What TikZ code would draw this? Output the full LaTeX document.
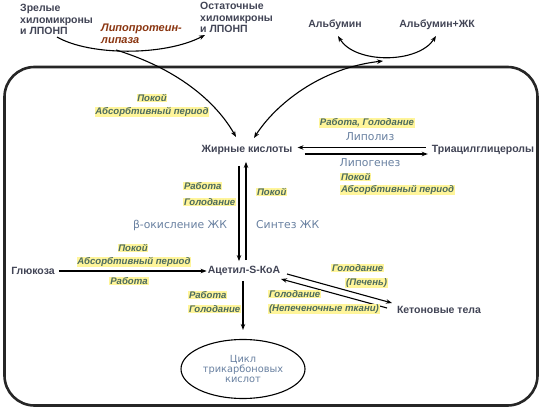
\documentclass[tikz,border=0pt]{standalone}
\usepackage{fontspec}
\setmainfont{Liberation Sans}
\newfontfamily\dvfont{DejaVu Sans}
\usetikzlibrary{arrows.meta,shapes.geometric,calc}
\definecolor{darktxt}{HTML}{414455}
\definecolor{condtxt}{HTML}{4C6B5E}
\definecolor{hlyel}{HTML}{FFF59A}
\definecolor{proctxt}{HTML}{6880A0}
\definecolor{brntxt}{HTML}{8A3510}
\tikzset{
  mainlbl/.style={font=\fontsize{10.5}{11.6}\selectfont\bfseries, text=darktxt, inner sep=1pt},
  condlbl/.style={font=\fontsize{9.6}{10}\selectfont\bfseries\itshape, text=condtxt, fill=hlyel, inner sep=0.8pt},
  proclbl/.style={font=\dvfont\fontsize{10.8}{11}\selectfont, text=proctxt, inner sep=1pt},
  arr/.style={-{Stealth[length=6pt,width=4.5pt]}, line width=1.1pt},
  dblarr/.style={{Stealth[length=6pt,width=4.5pt]}-{Stealth[length=6pt,width=4.5pt]}, line width=1.1pt},
}
\begin{document}
\begin{tikzpicture}[x=1pt,y=-1pt]
\useasboundingbox (0,0) rectangle (542,409);
\draw[line width=2.6pt, rounded corners=30pt, black!85] (4.5,67) rectangle (537.5,405.5);

% top texts
\node[mainlbl, align=left, anchor=north west] (mature) at (19,3) {Зрелые\\хиломикроны\\и ЛПОНП};
\node[mainlbl, align=left, anchor=north west] (resid) at (199,1) {Остаточные\\хиломикроны\\и ЛПОНП};
\node[font=\fontsize{11}{11.5}\selectfont\bfseries\itshape, text=brntxt, align=left, anchor=north west, inner sep=1pt] (lpl) at (100,23) {Липопротеин-\\липаза};
\node[mainlbl] (alb) at (335,25) {Альбумин};
\node[mainlbl] (albfa) at (437,25) {Альбумин+ЖК};

% main metabolites
\node[mainlbl] (fa) at (247,150) {Жирные кислоты};
\node[mainlbl] (tag) at (483,150) {Триацилглицеролы};
\node[mainlbl] (ac) at (244,271) {Ацетил-S-КоА};
\node[mainlbl] (glc) at (33,271) {Глюкоза};
\node[mainlbl] (ket) at (439,310) {Кетоновые тела};
\node[draw, ellipse, line width=1.1pt, minimum width=124pt, minimum height=59pt, align=center, inner sep=0pt, font=\dvfont\fontsize{9.8}{9.8}\selectfont, text=proctxt] (tca) at (243,369) {Цикл\\трикарбоновых\\кислот};

% coordinates for curves
\coordinate (m1) at (57,37);
\coordinate (m2) at (205,35);
\coordinate (l1) at (116,50);
\coordinate (a1) at (338,36);
\coordinate (a2) at (436,36);
\coordinate (a3) at (383,61);
\coordinate (f1) at (236,137);
\coordinate (f2) at (254,138);

\draw[arr] (m1) .. controls (90,56) and (165,56) .. (m2);
\draw[arr] (l1) .. controls (175,68) and (215,100) .. (f1);
\draw[dblarr] (a1) .. controls (355,64) and (418,64) .. (a2);
\draw[dblarr] (f2) .. controls (275,105) and (320,68) .. (a3);

% FA <-> TAG
\draw[arr] ($(tag.west)+(-5,-2.5)$) -- ($(fa.east)+(4,-2.5)$);
\draw[arr] ($(fa.east)+(11,4)$) -- ($(tag.west)+(-3,4)$);
\node[condlbl] (c1) at (367,123) {Работа, Голодание};
\node[proclbl] (lipol) at (370,137) {Липолиз};
\node[proclbl] (lipog) at (370,163) {Липогенез};
\node[condlbl, anchor=west] (c2) at (340,177) {Покой};
\node[condlbl, anchor=west] (c3) at (340,190) {Абсорбтивный период};

\node[condlbl] (c4) at (152,98) {Покой};
\node[condlbl] (c5) at (152,112) {Абсорбтивный период};

% FA <-> acetyl
\draw[arr] ($(fa.south)+(-8,10)$) -- ($(ac.north)+(-5,-4)$);
\draw[arr] ($(ac.north)+(2,-5)$) -- ($(fa.south)+(-1,6)$);
\node[condlbl, anchor=west] (c6) at (183,186) {Работа};
\node[condlbl, anchor=west] (c7) at (183,202) {Голодание};
\node[condlbl, anchor=west] (c8) at (256,192) {Покой};
\node[proclbl] (box) at (180,225) {β-окисление ЖК};
\node[proclbl, anchor=west] (syn) at (255,225) {Синтез ЖК};

% glucose -> acetyl
\coordinate (g1) at ($(glc.east)+(3,0)$);
\draw[arr] (g1) -- (ac.west);
\node[condlbl] (c9) at (133,248) {Покой};
\node[condlbl] (c10) at (134,262) {Абсорбтивный период};
\node[condlbl] (c11) at (129,281) {Работа};

% acetyl -> TCA
\draw[arr] ($(ac.south)+(-1,4)$) -- ($(tca.north)+(0,-9)$);
\node[condlbl, anchor=west] (c12) at (188,295) {Работа};
\node[condlbl, anchor=west] (c13) at (188,309) {Голодание};

% acetyl <-> ketones
\coordinate (k1) at (287,274);
\coordinate (k2) at (392,303);
\coordinate (k3) at (387,308);
\coordinate (k4) at (281,279);
\draw[arr] (k1) -- (k2);
\draw[arr] (k3) -- (k4);
\node[condlbl, anchor=west] (c14) at (331,268) {Голодание};
\node[condlbl, anchor=east] (c15) at (388,283) {(Печень)};
\node[condlbl, anchor=west] (c16) at (268,294) {Голодание};
\node[condlbl, anchor=west] (c17) at (268,309) {(Непеченочные ткани)};
\end{tikzpicture}
\end{document}
